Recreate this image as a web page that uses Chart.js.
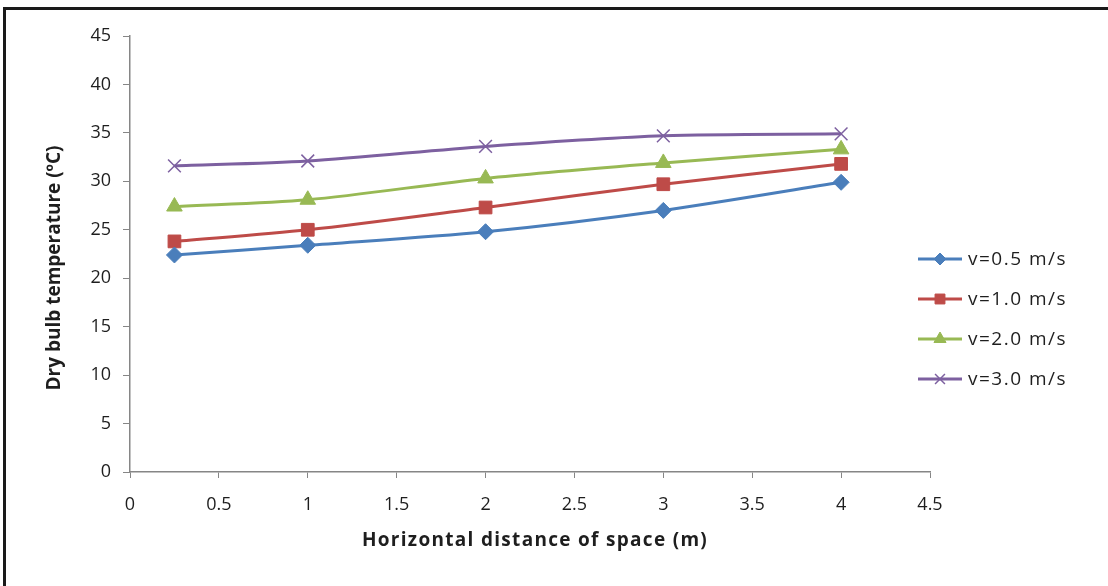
<!DOCTYPE html>
<html lang="en">
<head>
    <meta charset="UTF-8">
    <title>Dry bulb temperature vs horizontal distance</title>
    <script src="https://cdn.jsdelivr.net/npm/chart.js"></script>
    <style>
        html, body { margin: 0; padding: 0; background: #fff; }
        #wrap { position: relative; width: 1108px; height: 586px; overflow: hidden; }
        #frame {
            position: absolute; left: 3px; top: 7px; right: -10px; bottom: -10px;
            border-top: 3px solid #1a1a1a; border-left: 3px solid #1a1a1a;
        }
        #chart-box { position: absolute; left: 0; top: 0; width: 1108px; height: 586px; }
    </style>
</head>
<body>
<div id="wrap">
    <div id="frame"></div>
    <div id="chart-box"><canvas id="temp-chart"></canvas></div>
</div>

<script>
    // Values
    const distances = [0.25, 1, 2, 3, 4];
    const seriesNames = ['v=0.5 m/s', 'v=1.0 m/s', 'v=2.0 m/s', 'v=3.0 m/s'];
    const v05 = [22.4, 23.4, 24.8, 27.0, 29.9];
    const v10 = [23.8, 25.0, 27.3, 29.7, 31.8];
    const v20 = [27.4, 28.1, 30.3, 31.9, 33.3];
    const v30 = [31.6, 32.1, 33.6, 34.7, 34.9];
    const xTicks = [0, 0.5, 1, 1.5, 2, 2.5, 3, 3.5, 4, 4.5];
    const yTicks = [0, 5, 10, 15, 20, 25, 30, 35, 40, 45];
    const xTitle = 'Horizontal distance of space (m)';
    const yTitle = 'Dry bulb temperature (ºC)';

    const axisGray = '#868686';
    const textColor = '#1e1e1e';
    const fontFamily = "'Open Sans', 'Liberation Sans', sans-serif";

    function toPoints(values) {
        return distances.map((d, i) => ({ x: d, y: values[i] }));
    }

    const styles = [
        { color: '#4a7ebb', point: 'rectRot', radius: 8 },
        { color: '#be4b48', point: 'rect', radius: 9 },
        { color: '#98b954', point: 'triangle', radius: 9 },
        { color: '#7d60a0', point: 'crossRot', radius: 9 }
    ];

    const datasets = [v05, v10, v20, v30].map((vals, i) => ({
        label: seriesNames[i],
        data: toPoints(vals),
        borderColor: styles[i].color,
        backgroundColor: styles[i].color,
        pointBackgroundColor: styles[i].color,
        pointBorderColor: styles[i].color,
        pointStyle: styles[i].point,
        pointRadius: styles[i].radius,
        pointBorderWidth: styles[i].point === 'crossRot' ? 1.5 : 1,
        borderWidth: 3,
        tension: 0.3,
        fill: false
    }));

    // Axis titles and an Excel-like legend (short line with marker) drawn by hand
    const extras = {
        id: 'extras',
        afterDraw(chart) {
            const ctx = chart.ctx;
            const area = chart.chartArea;

            ctx.save();
            ctx.fillStyle = textColor;
            ctx.textAlign = 'center';
            ctx.textBaseline = 'middle';
            ctx.font = 'bold 19px ' + fontFamily;
            ctx.letterSpacing = '1.3px';
            ctx.fillText(xTitle, (area.left + area.right) / 2 + 5, 541);
            ctx.letterSpacing = '0px';
            ctx.translate(55, (area.top + area.bottom) / 2 + 14);
            ctx.rotate(-Math.PI / 2);
            ctx.fillText(yTitle, 0, 0);
            ctx.restore();

            const x0 = area.right - 12;
            const lineLen = 44;
            const gap = 40;
            const startY = 259;
            ctx.save();
            ctx.font = '19px ' + fontFamily;
            ctx.letterSpacing = '1.5px';
            ctx.textBaseline = 'middle';
            chart.data.datasets.forEach((ds, i) => {
                const y = startY + i * gap;
                ctx.strokeStyle = ds.borderColor;
                ctx.lineWidth = 3;
                ctx.beginPath();
                ctx.moveTo(x0, y);
                ctx.lineTo(x0 + lineLen, y);
                ctx.stroke();
                ctx.fillStyle = ds.borderColor;
                ctx.lineWidth = ds.pointBorderWidth;
                Chart.helpers.drawPoint(ctx, {
                    pointStyle: ds.pointStyle,
                    rotation: 0,
                    borderWidth: ds.pointBorderWidth,
                    radius: ds.pointRadius - 2
                }, x0 + lineLen / 2, y);
                ctx.fillStyle = textColor;
                ctx.fillText(ds.label, x0 + lineLen + 6, y + 1);
            });
            ctx.restore();
        }
    };

    const ctx = document.getElementById('temp-chart').getContext('2d');
    const tempChart = new Chart(ctx, {
        type: 'line',
        data: { datasets: datasets },
        plugins: [extras],
        options: {
            responsive: true,
            maintainAspectRatio: false,
            animation: false,
            layout: { padding: { left: 0, right: 178, top: 36, bottom: 0 } },
            plugins: {
                legend: { display: false },
                tooltip: { enabled: false }
            },
            scales: {
                x: {
                    type: 'linear',
                    min: 0,
                    max: 4.5,
                    afterBuildTicks(scale) { scale.ticks = xTicks.map(v => ({ value: v })); },
                    afterFit(scale) { scale.height = 114; },
                    grid: {
                        drawOnChartArea: false,
                        color: axisGray,
                        tickLength: 6
                    },
                    border: { color: axisGray, width: 1.5 },
                    ticks: {
                        color: textColor,
                        padding: 16,
                        maxRotation: 0,
                        callback: v => String(v),
                        font: { family: fontFamily, size: 18 }
                    }
                },
                y: {
                    min: 0,
                    max: 45,
                    afterBuildTicks(scale) { scale.ticks = yTicks.map(v => ({ value: v })); },
                    afterFit(scale) { scale.width = 130; },
                    grid: {
                        drawOnChartArea: false,
                        color: axisGray,
                        tickLength: 7
                    },
                    border: { color: axisGray, width: 1.5 },
                    ticks: {
                        color: textColor,
                        padding: 12,
                        callback: v => String(v),
                        font: { family: fontFamily, size: 18 }
                    }
                }
            }
        }
    });
</script>
</body>
</html>
